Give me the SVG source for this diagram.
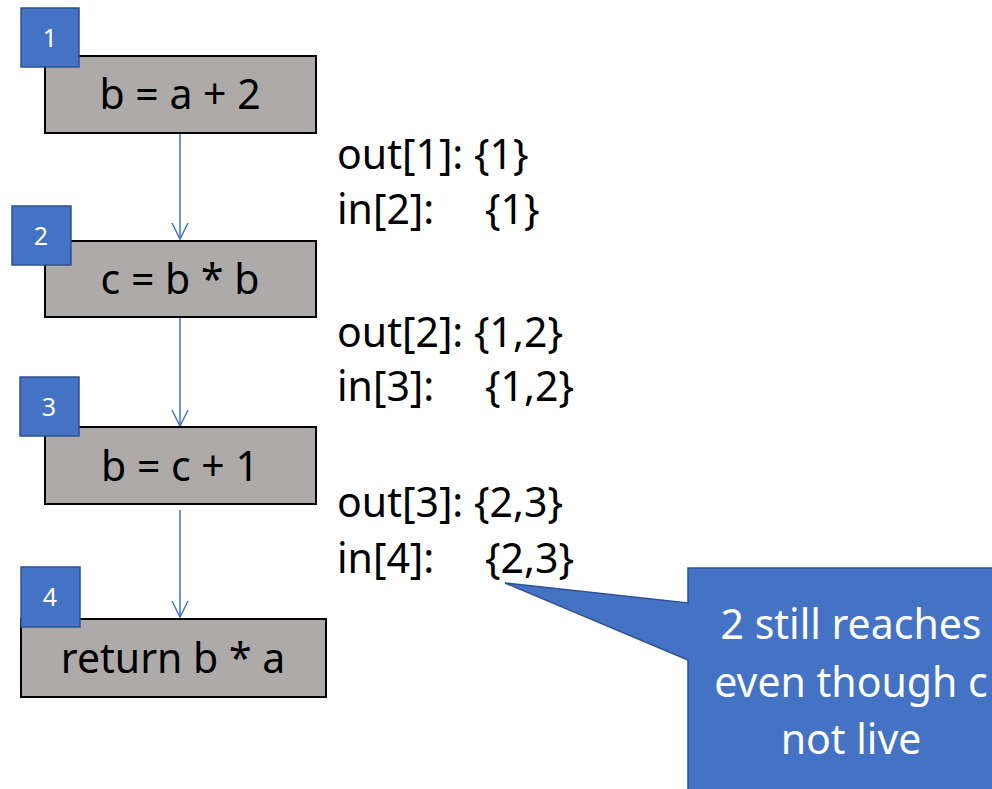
<svg xmlns="http://www.w3.org/2000/svg" width="992" height="789" viewBox="0 0 992 789">
<defs>
<style>
.box{fill:#AEAAAA;stroke:#000;stroke-width:2}
.badge{fill:#4472C4;stroke:#2F528F;stroke-width:1.5}
.bt{font-family:"Noto Sans","Open Sans",sans-serif;font-size:25px;fill:#fff;text-anchor:middle}
.t{font-family:"Noto Sans","Open Sans",sans-serif;font-size:41px;fill:#000}
.tc{text-anchor:middle}
.edge{stroke:#4472C4;stroke-width:1.5;fill:none}
.ct{font-family:"Noto Sans","Open Sans",sans-serif;font-size:41px;fill:#fff;text-anchor:middle}
</style>
<marker id="arr" viewBox="0 0 20 20" refX="18" refY="10" markerWidth="20" markerHeight="20" markerUnits="userSpaceOnUse" orient="auto">
<path d="M2,2 L18,10 L2,18" fill="none" stroke="#4472C4" stroke-width="1.5"/>
</marker>
</defs>
<rect width="992" height="789" fill="#fff"/>
<g id="connectors">
<line class="edge" x1="180" y1="134" x2="180" y2="239" marker-end="url(#arr)"/>
<line class="edge" x1="180" y1="318" x2="180" y2="426" marker-end="url(#arr)"/>
<line class="edge" x1="180" y1="510" x2="180" y2="617" marker-end="url(#arr)"/>
</g>
<g id="node1">
<rect class="box" x="45" y="56" width="271" height="77"/>
<text class="t tc" x="180" y="109">b = a + 2</text>
<rect class="badge" x="21" y="8" width="58" height="59"/>
<text class="bt" x="50" y="47">1</text>
</g>
<g id="node2">
<rect class="box" x="45" y="241" width="271" height="76"/>
<text class="t tc" x="180" y="294">c = b * b</text>
<rect class="badge" x="12" y="206" width="59" height="59"/>
<text class="bt" x="41" y="245">2</text>
</g>
<g id="node3">
<rect class="box" x="45" y="427" width="271" height="77"/>
<text class="t tc" x="180" y="481">b = c + 1</text>
<rect class="badge" x="20" y="377" width="59" height="59"/>
<text class="bt" x="49" y="416">3</text>
</g>
<g id="node4">
<rect class="box" x="21" y="619" width="305" height="78"/>
<text class="t tc" x="173" y="673">return b * a</text>
<rect class="badge" x="21" y="567" width="59" height="60"/>
<text class="bt" x="50" y="606">4</text>
</g>
<g id="labels">
<text class="t" x="337" y="169">out[1]: {1}</text>
<text class="t" x="337" y="224">in[2]:</text><text class="t" x="485" y="224">{1}</text>
<text class="t" x="337" y="347">out[2]: {1,2}</text>
<text class="t" x="337" y="401">in[3]:</text><text class="t" x="485" y="401">{1,2}</text>
<text class="t" x="337" y="517">out[3]: {2,3}</text>
<text class="t" x="337" y="573">in[4]:</text><text class="t" x="485" y="573">{2,3}</text>
</g>
<g id="callout">
<path d="M688,568 L1020,568 L1020,800 L688,800 L688,660 L505,583 L688,603 Z" fill="#4472C4" stroke="#2F528F" stroke-width="1.5"/>
<text class="ct" x="851" y="639">2 still reaches</text>
<text class="ct" x="851" y="697">even though c</text>
<text class="ct" x="851" y="754">not live</text>
</g>
</svg>
